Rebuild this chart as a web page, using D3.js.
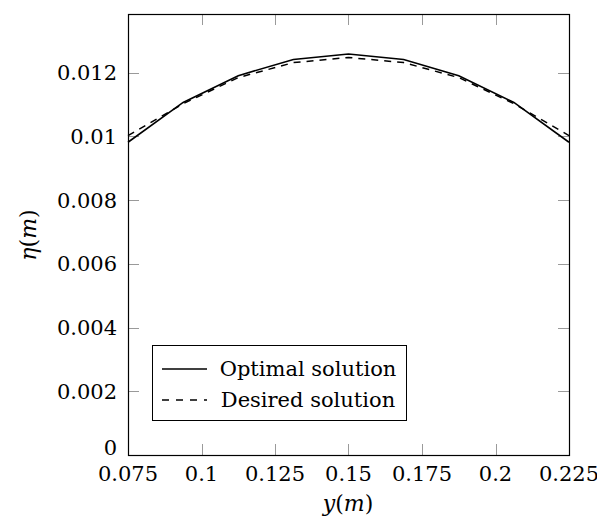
<!DOCTYPE html>
<html>
<head>
<meta charset="utf-8">
<script src="https://cdn.jsdelivr.net/npm/d3@7"></script>
<style>
  html, body { margin: 0; padding: 0; background: #fff; }
  svg { display: block; }
</style>
</head>
<body>
<svg id="chart" width="597" height="517"></svg>
<script>
// Positions along the cross-section (m)
const yPositions = [0.075, 0.09375, 0.1125, 0.13125, 0.15, 0.16875, 0.1875, 0.20625, 0.225];
// Optimal solution eta(m)
const optimalEta = [0.00982, 0.01107, 0.01191, 0.01242, 0.01259, 0.01242, 0.01191, 0.01107, 0.00982];
// Desired solution eta(m)
const desiredEta = [0.01003, 0.01103, 0.01185, 0.01232, 0.01248, 0.01232, 0.01185, 0.01103, 0.01003];

const xTicks = [0.075, 0.1, 0.125, 0.15, 0.175, 0.2, 0.225];
const xTickLabels = ["0.075", "0.1", "0.125", "0.15", "0.175", "0.2", "0.225"];
const yTicks = [0, 0.002, 0.004, 0.006, 0.008, 0.01, 0.012];
const yTickLabels = ["0", "0.002", "0.004", "0.006", "0.008", "0.01", "0.012"];

const legendLabels = ["Optimal solution", "Desired solution"];

const svg = d3.select("#chart")
  .attr("font-family", "'DejaVu Serif', 'Liberation Serif', serif");
const plotLeft = 128, plotRight = 569, plotTop = 14, plotBottom = 455;

const x = d3.scaleLinear().domain([0.075, 0.225]).range([plotLeft, plotRight]);
const y = d3.scaleLinear().domain([0, 0.013846]).range([plotBottom, plotTop]);

const fontSize = 21;
const tickLen = 11;
const tickColor = "#9a9a9a";

// Inward ticks on all four sides
const tickG = svg.append("g").attr("stroke", tickColor).attr("stroke-width", 1);
xTicks.forEach(t => {
  const px = Math.round(x(t)) + 0.5;
  tickG.append("line").attr("x1", px).attr("x2", px).attr("y1", plotBottom).attr("y2", plotBottom - tickLen);
  tickG.append("line").attr("x1", px).attr("x2", px).attr("y1", plotTop).attr("y2", plotTop + tickLen);
});
yTicks.forEach(t => {
  const py = Math.round(y(t)) + 0.5;
  tickG.append("line").attr("x1", plotLeft).attr("x2", plotLeft + tickLen).attr("y1", py).attr("y2", py);
  tickG.append("line").attr("x1", plotRight).attr("x2", plotRight - tickLen).attr("y1", py).attr("y2", py);
});

// Tick labels
xTicks.forEach((t, i) => {
  svg.append("text")
    .attr("x", x(t)).attr("y", 481)
    .attr("text-anchor", "middle")
    .attr("font-size", fontSize)
    .text(xTickLabels[i]);
});
yTicks.forEach((t, i) => {
  const py = t === 0 ? y(t) - 8 : y(t);
  svg.append("text")
    .attr("x", 117).attr("y", py)
    .attr("dy", "0.36em")
    .attr("text-anchor", "end")
    .attr("font-size", fontSize)
    .text(yTickLabels[i]);
});

// Series lines
const line = d3.line().x((d, i) => x(yPositions[i])).y(d => y(d));
const plotG = svg.append("g");
plotG.append("path").datum(desiredEta)
  .attr("d", line).attr("fill", "none")
  .attr("stroke", "#000").attr("stroke-width", 1.5)
  .attr("stroke-dasharray", "7,6");
plotG.append("path").datum(optimalEta)
  .attr("d", line).attr("fill", "none")
  .attr("stroke", "#000").attr("stroke-width", 1.6);

// Frame
svg.append("rect")
  .attr("x", plotLeft + 0.5).attr("y", plotTop + 0.5)
  .attr("width", plotRight - plotLeft).attr("height", plotBottom - plotTop)
  .attr("fill", "none").attr("stroke", "#000").attr("stroke-width", 1.2);

// Axis titles
const xTitle = svg.append("text")
  .attr("x", 348).attr("y", 511)
  .attr("text-anchor", "middle")
  .attr("font-size", fontSize + 1);
xTitle.append("tspan").attr("font-style", "italic").text("y");
xTitle.append("tspan").text("(");
xTitle.append("tspan").attr("font-style", "italic").text("m");
xTitle.append("tspan").text(")");

const yTitle = svg.append("text")
  .attr("transform", "translate(36,235) rotate(-90)")
  .attr("text-anchor", "middle")
  .attr("font-size", fontSize + 1);
yTitle.append("tspan").attr("font-style", "italic").text("η");
yTitle.append("tspan").text("(");
yTitle.append("tspan").attr("font-style", "italic").text("m");
yTitle.append("tspan").text(")");

// Legend
const lg = svg.append("g");
lg.append("rect")
  .attr("x", 152.5).attr("y", 345.5)
  .attr("width", 254).attr("height", 75)
  .attr("fill", "#fff").attr("stroke", "#000").attr("stroke-width", 1);
const legendRows = [369, 400];
const legendDash = [null, "7,7"];
legendLabels.forEach((lab, i) => {
  const l = lg.append("line")
    .attr("x1", 162).attr("x2", 207)
    .attr("y1", legendRows[i]).attr("y2", legendRows[i])
    .attr("stroke", "#000").attr("stroke-width", 1.5);
  if (legendDash[i]) l.attr("stroke-dasharray", legendDash[i]);
  lg.append("text")
    .attr("x", 308).attr("y", legendRows[i])
    .attr("dy", "0.32em")
    .attr("text-anchor", "middle")
    .attr("font-size", fontSize)
    .text(lab);
});
</script>
</body>
</html>
